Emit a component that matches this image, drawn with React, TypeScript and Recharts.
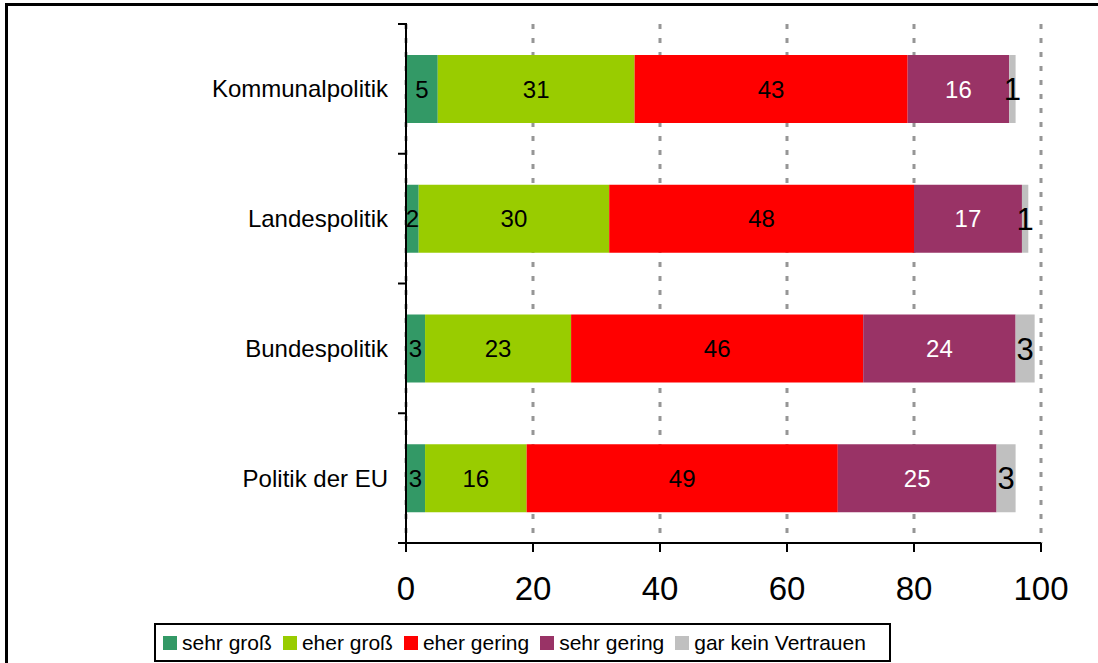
import React from 'react';
import { BarChart, Bar, XAxis, YAxis, CartesianGrid, LabelList } from 'recharts';

const categories = ['Kommunalpolitik', 'Landespolitik', 'Bundespolitik', 'Politik der EU'];
const sehrGross = [5, 2, 3, 3];
const eherGross = [31, 30, 23, 16];
const eherGering = [43, 48, 46, 49];
const sehrGering = [16, 17, 24, 25];
const garKein = [1, 1, 3, 3];
const xTicks = [0, 20, 40, 60, 80, 100];

const seriesNames = ['sehr groß', 'eher groß', 'eher gering', 'sehr gering', 'gar kein Vertrauen'];
const seriesKeys = ['sehrGross', 'eherGross', 'eherGering', 'sehrGering', 'garKein'];
const seriesColors = ['#339966', '#99CC00', '#FF0000', '#993366', '#C0C0C0'];
const labelColors = ['#000000', '#000000', '#000000', '#FFFFFF', '#000000'];
const labelSizes = [24, 24, 24, 24, 31];

const data = categories.map((cat, i) => ({
  cat,
  sehrGross: sehrGross[i],
  eherGross: eherGross[i],
  eherGering: eherGering[i],
  sehrGering: sehrGering[i],
  garKein: garKein[i],
}));

const FONT = "'Liberation Sans', Arial, sans-serif";

const CategoryTick = (props: any) => {
  const { x, y, payload, height, visibleTicksCount, index } = props;
  const n = visibleTicksCount || categories.length;
  const h = typeof height === 'number' && height > 0 ? height : 519;
  const half = h / n / 2;
  const x1 = x + 10;
  const x2 = x + 19;
  return (
    <g>
      <line x1={x1} x2={x2} y1={y - half} y2={y - half} stroke="#000" strokeWidth={2} />
      {index === n - 1 && (
        <line x1={x1} x2={x2} y1={y + half} y2={y + half} stroke="#000" strokeWidth={2} />
      )}
      <text x={x} y={y} dy="0.355em" textAnchor="end" fontSize={24} fontFamily={FONT} fill="#000">
        {payload.value}
      </text>
    </g>
  );
};

export default function App() {
  return (
    <div
      style={{
        position: 'absolute',
        left: 0,
        top: 0,
        width: 1098,
        height: 663,
        overflow: 'hidden',
        background: '#fff',
      }}
    >
      <div
        style={{
          position: 'absolute',
          left: 5,
          top: 3,
          width: 1200,
          height: 800,
          border: '3px solid #000',
          boxSizing: 'border-box',
        }}
      />
      <div style={{ position: 'absolute', left: 0, top: 0 }}>
        <BarChart
          width={1098}
          height={663}
          data={data}
          layout="vertical"
          margin={{ top: 24, right: 57, bottom: 60, left: 6 }}
          barSize={68}
        >
          <CartesianGrid
            horizontal={false}
            vertical={true}
            stroke="#969696"
            strokeWidth={3}
            strokeDasharray="5 9"
          />
          <XAxis
            type="number"
            domain={[0, 100]}
            ticks={xTicks}
            interval={0}
            height={60}
            tickSize={9}
            tickMargin={25}
            axisLine={{ stroke: '#000', strokeWidth: 2 }}
            tickLine={{ stroke: '#000', strokeWidth: 2 }}
            tick={{ fontSize: 33, fontFamily: FONT, fill: '#000' }}
          />
          <YAxis
            type="category"
            dataKey="cat"
            width={400}
            interval={0}
            tickSize={8}
            tickMargin={10}
            tickLine={false}
            axisLine={{ stroke: '#000', strokeWidth: 2 }}
            tick={<CategoryTick />}
          />
          {seriesKeys.map((k, i) => (
            <Bar
              key={k}
              dataKey={k}
              name={seriesNames[i]}
              stackId="a"
              fill={seriesColors[i]}
              isAnimationActive={false}
            >
              <LabelList
                dataKey={k}
                position="center"
                fill={labelColors[i]}
                fontSize={labelSizes[i]}
                fontFamily={FONT}
              />
            </Bar>
          ))}
        </BarChart>
      </div>
      <div
        style={{
          position: 'absolute',
          left: 154,
          top: 623,
          width: 737,
          height: 39,
          border: '2px solid #000',
          boxSizing: 'border-box',
          display: 'flex',
          alignItems: 'center',
          paddingLeft: 7,
          fontFamily: FONT,
          fontSize: 21,
          color: '#000',
          background: '#fff',
        }}
      >
        {seriesNames.map((name, i) => (
          <div
            key={name}
            style={{ display: 'flex', alignItems: 'center', marginRight: i < seriesNames.length - 1 ? 11 : 0 }}
          >
            <span
              style={{
                display: 'inline-block',
                width: 14,
                height: 14,
                background: seriesColors[i],
                marginRight: 5,
              }}
            />
            <span style={{ lineHeight: '21px' }}>{name}</span>
          </div>
        ))}
      </div>
    </div>
  );
}
